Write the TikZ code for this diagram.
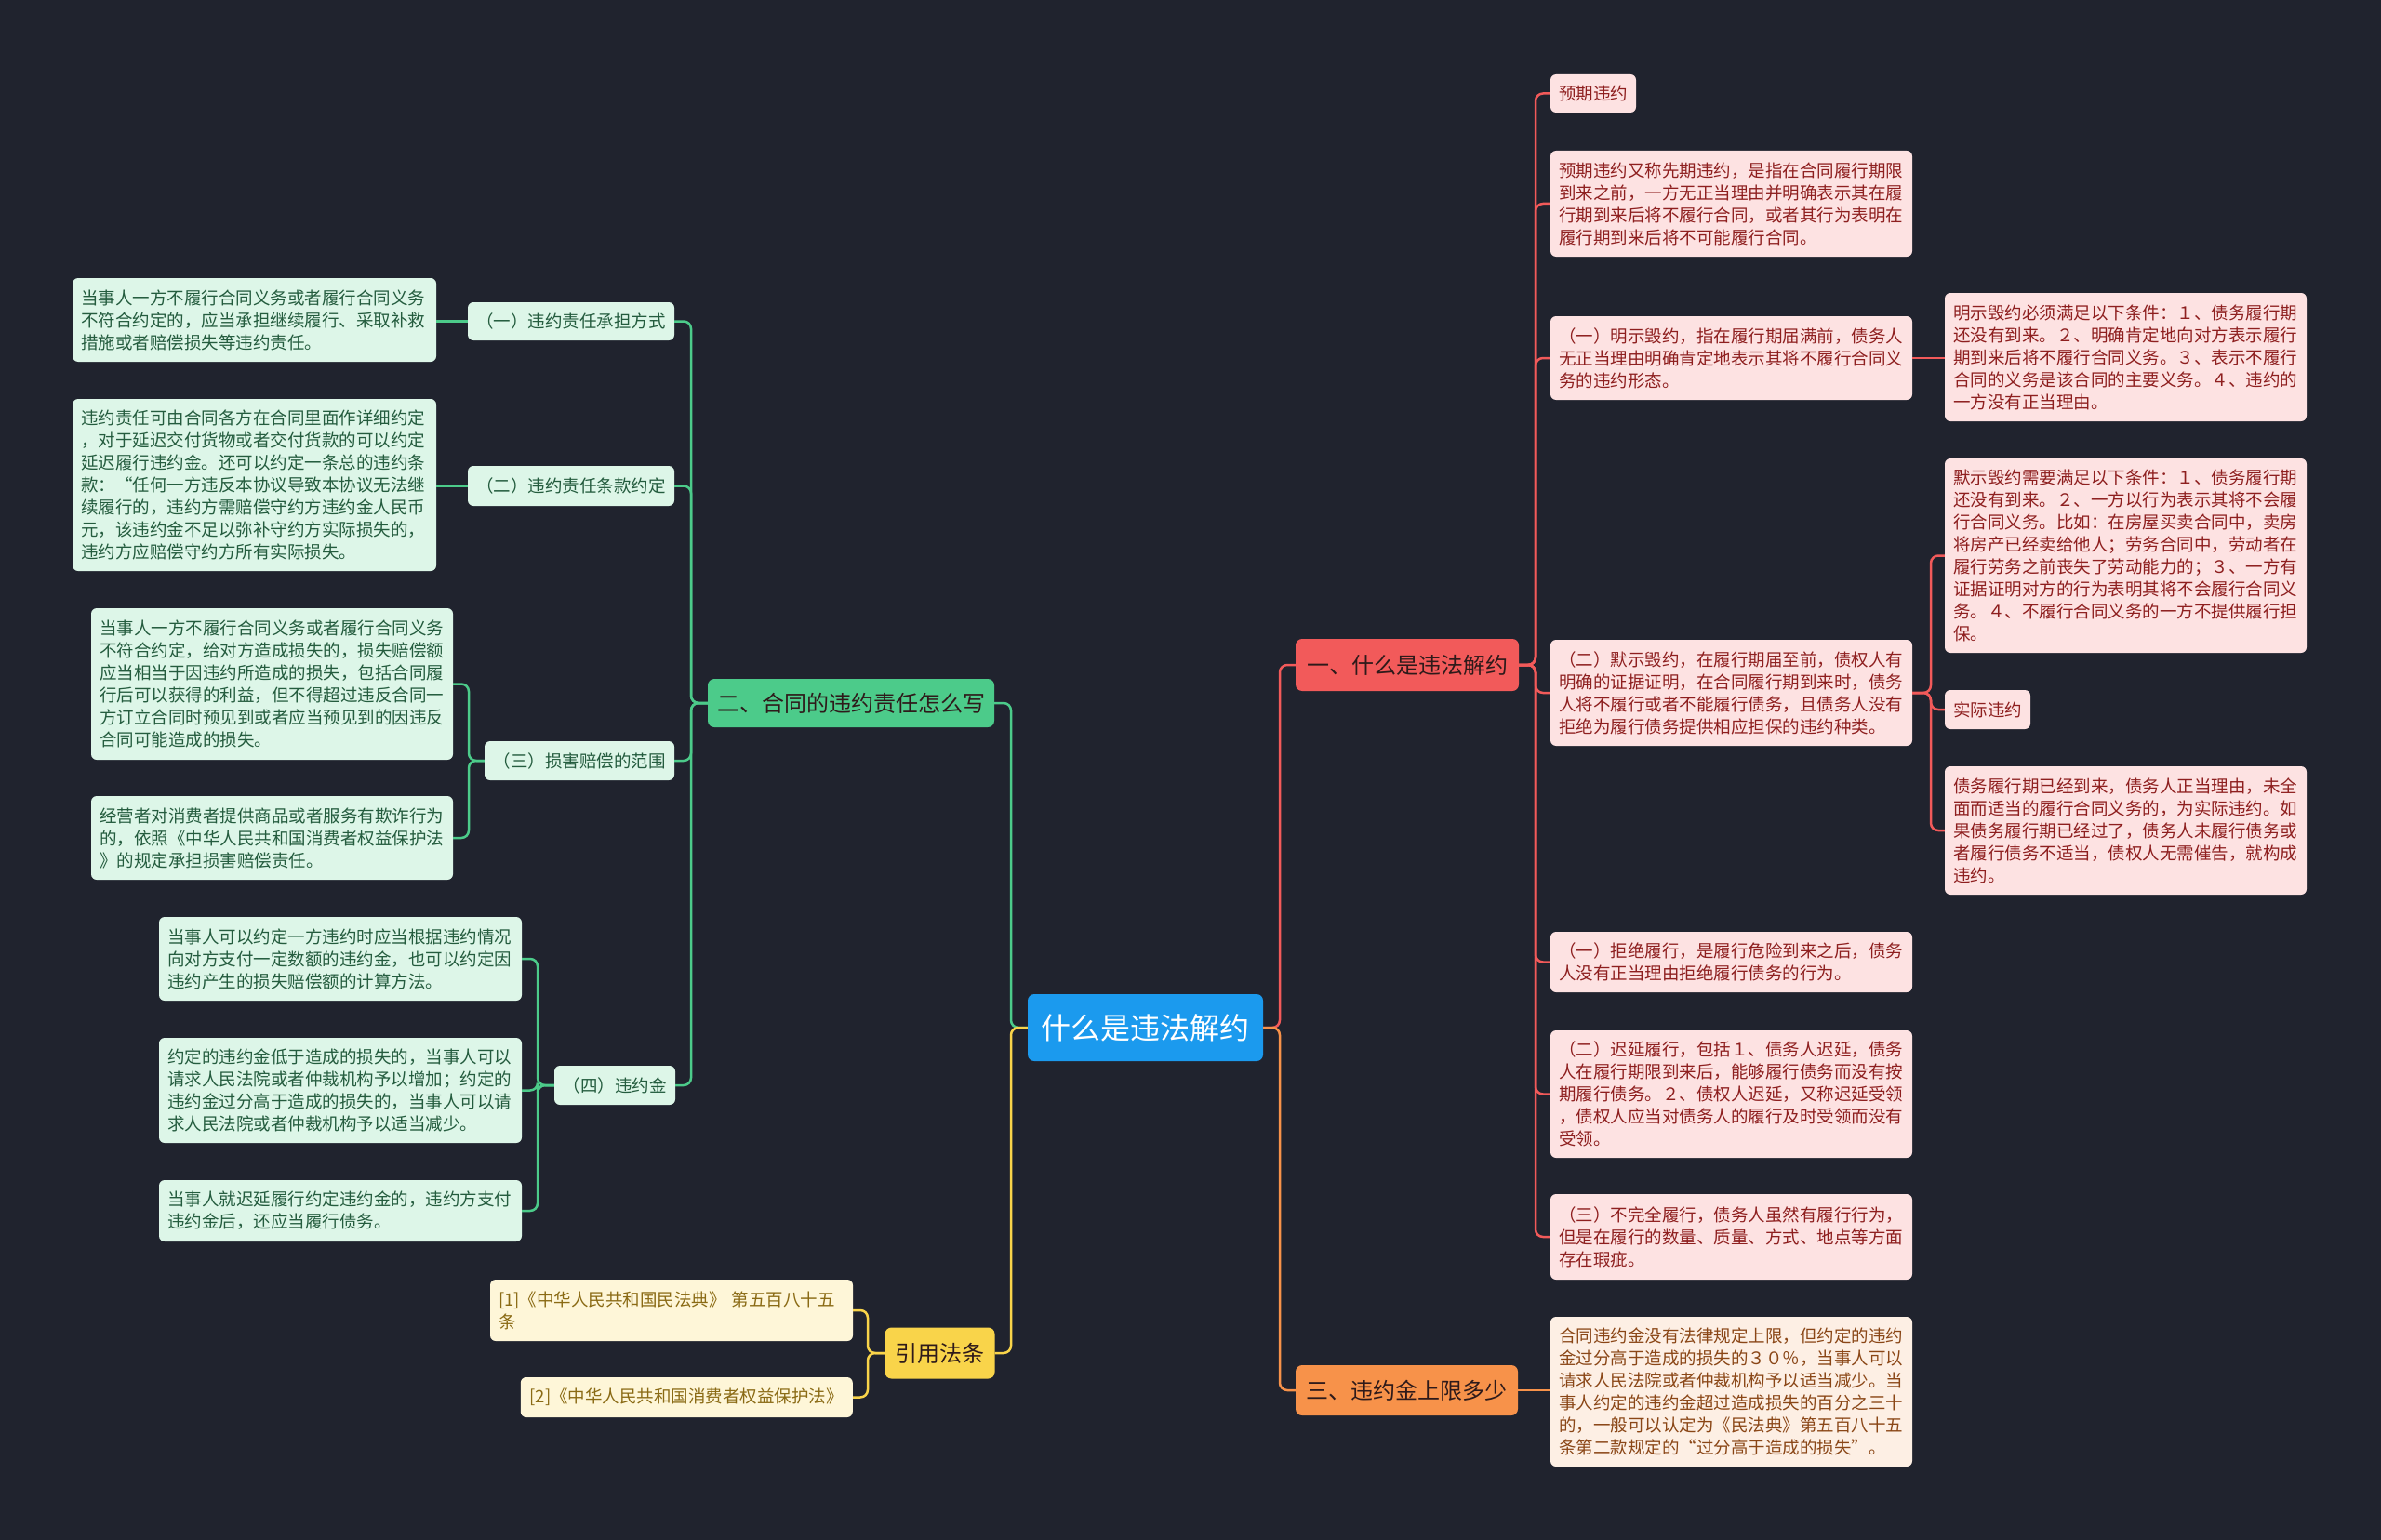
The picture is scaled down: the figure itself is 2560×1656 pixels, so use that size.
\documentclass[tikz,border=0pt]{standalone}
\usepackage{fontspec}
\setmainfont{Noto Sans CJK SC}
\newfontfamily\cjk{Noto Sans CJK SC}
\definecolor{bgc}{HTML}{20232E}
\definecolor{rootc}{HTML}{1B9AEE}
\definecolor{redc}{HTML}{F25A5A}
\definecolor{greenc}{HTML}{4CCB8A}
\definecolor{yellowc}{HTML}{F9D44A}
\definecolor{orangec}{HTML}{F7924A}
\definecolor{gfill}{HTML}{DDF6E8}
\definecolor{gtext}{HTML}{245C3E}
\definecolor{rfill}{HTML}{FDE2E2}
\definecolor{rtext}{HTML}{8E1F1F}
\definecolor{yfill}{HTML}{FEF6D8}
\definecolor{ytext}{HTML}{8A6A14}
\definecolor{ofill}{HTML}{FDEFE4}
\definecolor{otext}{HTML}{8A4616}
\definecolor{darktext}{HTML}{2E1A1A}
\newcommand{\leaffont}{\cjk\fontsize{18.5}{24}\selectfont}
\newcommand{\brfont}{\cjk\fontsize{24}{28}\selectfont}
\newcommand{\rtfont}{\cjk\fontsize{32}{38}\selectfont}
\tikzset{
  box/.style={rounded corners=6pt, inner xsep=9pt, inner ysep=4pt, align=left, anchor=center},
  gleaf/.style={box, fill=gfill, text=gtext, font=\leaffont},
  rleaf/.style={box, fill=rfill, text=rtext, font=\leaffont},
  yleaf/.style={box, fill=yfill, text=ytext, font=\leaffont},
  oleaf/.style={box, fill=ofill, text=otext, font=\leaffont},
  branch/.style={rounded corners=7pt, inner sep=0pt, font=\brfont, align=center, text=darktext},
  gl/.style={draw=greenc, line width=2.5pt, rounded corners=8pt},
  rl/.style={draw=redc, line width=2.5pt, rounded corners=8pt},
  yl/.style={draw=yellowc, line width=2.5pt, rounded corners=8pt},
  ol/.style={draw=orangec, line width=2.5pt, rounded corners=8pt},
}
\begin{document}
\begin{tikzpicture}[x=1pt,y=-1pt]
\fill[bgc] (0,0) rectangle (2560,1656);
\useasboundingbox (0,0) rectangle (2560,1656);

% root
\node[rounded corners=7pt, inner sep=0pt, fill=rootc, text=white, font=\rtfont, minimum width=253pt, minimum height=72pt] (root) at (1231.5,1105) {什么是违法解约};

% main branches
\node[branch, fill=greenc, minimum width=308pt, minimum height=52pt] (G) at (915,756) {二、合同的违约责任怎么写};
\node[branch, fill=yellowc, minimum width=118pt, minimum height=55pt] (Y) at (1010.5,1455) {引用法条};
\node[branch, fill=redc, minimum width=240pt, minimum height=56pt] (R) at (1513,715) {一、什么是违法解约};
\node[branch, fill=orangec, minimum width=239pt, minimum height=54pt] (O) at (1512.5,1495) {三、违约金上限多少};

% green subtree
\node[gleaf, align=center, minimum width=222pt, minimum height=41pt] (P1) at (614,345.5) {（一）违约责任承担方式};
\node[gleaf, align=center, minimum width=222pt, minimum height=43pt] (P2) at (614,522.5) {（二）违约责任条款约定};
\node[gleaf, align=center, minimum width=204pt, minimum height=42pt] (P3) at (623,818) {（三）损害赔偿的范围};
\node[gleaf, align=center, minimum width=130pt, minimum height=42pt] (P4) at (661,1167) {（四）违约金};

\node[gleaf, text width=373pt, minimum height=90pt] (L1) at (273.5,344) {当事人一方不履行合同义务或者履行合同义务\\不符合约定的，应当承担继续履行、采取补救\\措施或者赔偿损失等违约责任。};
\node[gleaf, text width=373pt, minimum height=185pt] (L2) at (273.5,521.5) {违约责任可由合同各方在合同里面作详细约定\\，对于延迟交付货物或者交付货款的可以约定\\延迟履行违约金。还可以约定一条总的违约条\\款：“任何一方违反本协议导致本协议无法继\\续履行的，违约方需赔偿守约方违约金人民币\\元，该违约金不足以弥补守约方实际损失的，\\违约方应赔偿守约方所有实际损失。};
\node[gleaf, text width=371pt, minimum height=163pt] (L3a) at (292.5,735.5) {当事人一方不履行合同义务或者履行合同义务\\不符合约定，给对方造成损失的，损失赔偿额\\应当相当于因违约所造成的损失，包括合同履\\行后可以获得的利益，但不得超过违反合同一\\方订立合同时预见到或者应当预见到的因违反\\合同可能造成的损失。};
\node[gleaf, text width=371pt, minimum height=90pt] (L3b) at (292.5,901) {经营者对消费者提供商品或者服务有欺诈行为\\的，依照《中华人民共和国消费者权益保护法\\》的规定承担损害赔偿责任。};
\node[gleaf, text width=372pt, minimum height=90pt] (L4a) at (366,1031) {当事人可以约定一方违约时应当根据违约情况\\向对方支付一定数额的违约金，也可以约定因\\违约产生的损失赔偿额的计算方法。};
\node[gleaf, text width=372pt, minimum height=113pt] (L4b) at (366,1172.5) {约定的违约金低于造成的损失的，当事人可以\\请求人民法院或者仲裁机构予以增加；约定的\\违约金过分高于造成的损失的，当事人可以请\\求人民法院或者仲裁机构予以适当减少。};
\node[gleaf, text width=372pt, minimum height=66pt] (L4c) at (366,1302) {当事人就迟延履行约定违约金的，违约方支付\\违约金后，还应当履行债务。};

% yellow subtree
\node[yleaf, text width=372pt, minimum height=66pt] (Y1) at (722,1409) {[1]《中华人民共和国民法典》 第五百八十五\\条};
\node[yleaf, anchor=east, minimum width=357pt, minimum height=43pt] (Y2) at (917,1502.5) {[2]《中华人民共和国消费者权益保护法》};

% red subtree
\node[rleaf, minimum width=92pt, minimum height=41pt] (R1) at (1713,100.5) {预期违约};
\node[rleaf, text width=371pt, minimum height=114pt] (R2) at (1861.5,219) {预期违约又称先期违约，是指在合同履行期限\\到来之前，一方无正当理由并明确表示其在履\\行期到来后将不履行合同，或者其行为表明在\\履行期到来后将不可能履行合同。};
\node[rleaf, text width=371pt, minimum height=90pt] (R3) at (1861.5,385) {（一）明示毁约，指在履行期届满前，债务人\\无正当理由明确肯定地表示其将不履行合同义\\务的违约形态。};
\node[rleaf, text width=371pt, minimum height=114pt] (R4) at (1861.5,745) {（二）默示毁约，在履行期届至前，债权人有\\明确的证据证明，在合同履行期到来时，债务\\人将不履行或者不能履行债务，且债务人没有\\拒绝为履行债务提供相应担保的违约种类。};
\node[rleaf, text width=371pt, minimum height=65pt] (R5) at (1861.5,1034.5) {（一）拒绝履行，是履行危险到来之后，债务\\人没有正当理由拒绝履行债务的行为。};
\node[rleaf, text width=371pt, minimum height=137pt] (R6) at (1861.5,1176.5) {（二）迟延履行，包括１、债务人迟延，债务\\人在履行期限到来后，能够履行债务而没有按\\期履行债务。２、债权人迟延，又称迟延受领\\，债权人应当对债务人的履行及时受领而没有\\受领。};
\node[rleaf, text width=371pt, minimum height=92pt] (R7) at (1861.5,1330) {（三）不完全履行，债务人虽然有履行行为，\\但是在履行的数量、质量、方式、地点等方面\\存在瑕疵。};

\node[rleaf, text width=371pt, minimum height=138pt] (R3c) at (2285.5,384) {明示毁约必须满足以下条件：１、债务履行期\\还没有到来。２、明确肯定地向对方表示履行\\期到来后将不履行合同义务。３、表示不履行\\合同的义务是该合同的主要义务。４、违约的\\一方没有正当理由。};
\node[rleaf, text width=371pt, minimum height=209pt] (R4a) at (2285.5,597.5) {默示毁约需要满足以下条件：１、债务履行期\\还没有到来。２、一方以行为表示其将不会履\\行合同义务。比如：在房屋买卖合同中，卖房\\将房产已经卖给他人；劳务合同中，劳动者在\\履行劳务之前丧失了劳动能力的；３、一方有\\证据证明对方的行为表明其将不会履行合同义\\务。４、不履行合同义务的一方不提供履行担\\保。};
\node[rleaf, minimum width=92pt, minimum height=42pt] (R4b) at (2137,763) {实际违约};
\node[rleaf, text width=371pt, minimum height=138pt] (R4c) at (2285.5,893) {债务履行期已经到来，债务人正当理由，未全\\面而适当的履行合同义务的，为实际违约。如\\果债务履行期已经过了，债务人未履行债务或\\者履行债务不适当，债权人无需催告，就构成\\违约。};

% orange subtree
\node[oleaf, text width=371pt, minimum height=161pt] (O1) at (1861.5,1496.5) {合同违约金没有法律规定上限，但约定的违约\\金过分高于造成的损失的３０％，当事人可以\\请求人民法院或者仲裁机构予以适当减少。当\\事人约定的违约金超过造成损失的百分之三十\\的，一般可以认定为《民法典》第五百八十五\\条第二款规定的“过分高于造成的损失”。};

% junction coordinates
\coordinate (jl) at (1087,1105);
\coordinate (jr) at (1376,1105);
\coordinate (gj) at (743,756);
\coordinate (p3j) at (504,818);
\coordinate (p4j) at (578,1167);
\coordinate (yj) at (933,1455);
\coordinate (rj) at (1651,715);
\coordinate (r4j) at (2076,745);

% connectors from root
\draw[gl] (root.west) -- (jl) |- (G.east);
\draw[yl] (root.west) -- (jl) |- (Y.east);
\draw[rl] (root.east) -- (jr) |- (R.west);
\draw[ol] (root.east) -- (jr) |- (O.west);

% green
\foreach \n in {P1,P2,P3,P4} { \draw[gl] (G.west) -- (gj) |- (\n.east); }
\draw[gl] (P1.west) -- (P1.west -| L1.east);
\draw[gl] (P2.west) -- (P2.west -| L2.east);
\draw[gl] (P3.west) -- (p3j) |- (L3a.east);
\draw[gl] (P3.west) -- (p3j) |- (L3b.east);
\foreach \n in {L4a,L4b,L4c} { \draw[gl] (P4.west) -- (p4j) |- (\n.east); }

% yellow
\draw[yl] (Y.west) -- (yj) |- (Y1.east);
\draw[yl] (Y.west) -- (yj) |- (Y2.east);

% red
\foreach \n in {R1,R2,R3,R4,R5,R6,R7} { \draw[rl] (R.east) -- (rj) |- (\n.west); }
\draw[rl] (R3.east) -- (R3.east -| R3c.west);
\foreach \n in {R4a,R4b,R4c} { \draw[rl] (R4.east) -- (r4j) |- (\n.west); }

% orange
\draw[ol] (O.east) -- (O.east -| O1.west);
\end{tikzpicture}
\end{document}
